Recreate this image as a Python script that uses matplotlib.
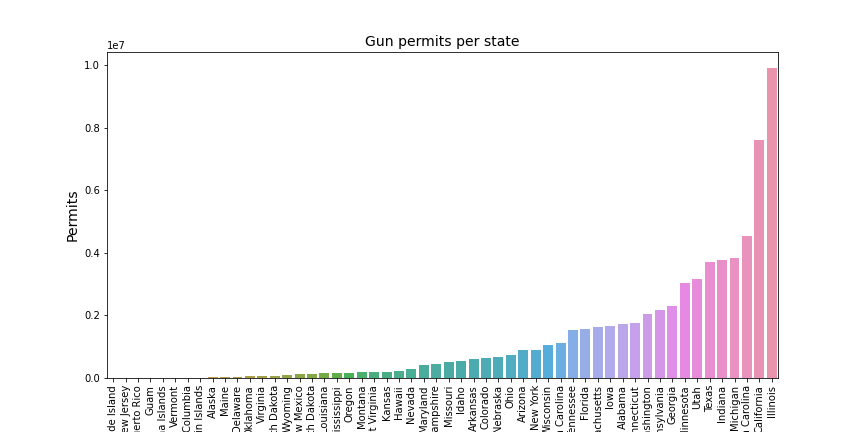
import matplotlib
matplotlib.use("Agg")
import matplotlib.pyplot as plt
import seaborn as sns

states = ["Rhode Island", "New Jersey", "Puerto Rico", "Guam", "Mariana Islands", "Vermont",
          "District of Columbia", "Virgin Islands", "Alaska", "Maine", "Delaware", "Oklahoma",
          "Virginia", "South Dakota", "Wyoming", "New Mexico", "North Dakota", "Louisiana",
          "Mississippi", "Oregon", "Montana", "West Virginia", "Kansas", "Hawaii", "Nevada",
          "Maryland", "New Hampshire", "Missouri", "Idaho", "Arkansas", "Colorado", "Nebraska",
          "Ohio", "Arizona", "New York", "Wisconsin", "South Carolina", "Tennessee", "Florida",
          "Massachusetts", "Iowa", "Alabama", "Connecticut", "Washington", "Pennsylvania",
          "Georgia", "Minnesota", "Utah", "Texas", "Indiana", "Michigan", "North Carolina",
          "California", "Illinois"]

permits_millions = [0, 0, 0, 0, 0, 0, 0, 0, 0.032, 0.032, 0.032, 0.064,
                    0.064, 0.064, 0.096, 0.128, 0.128, 0.16,
                    0.16, 0.16, 0.19, 0.19, 0.19, 0.22, 0.29,
                    0.415, 0.45, 0.51, 0.54, 0.61, 0.64, 0.67,
                    0.73, 0.895, 0.895, 1.055, 1.12, 1.53, 1.565,
                    1.63, 1.66, 1.725, 1.757, 2.045, 2.17,
                    2.3, 3.035, 3.16, 3.705, 3.77, 3.83, 4.535,
                    7.62, 9.93]
permits = [v * 1e6 for v in permits_millions]

colors = [sns.desaturate(c, 0.75) for c in sns.husl_palette(len(states), l=.7)]

fig = plt.figure(figsize=(12, 6), dpi=72)
ax = fig.add_axes([107 / 864, 54 / 432, 671 / 864, 326 / 432])
ax.bar(range(len(states)), permits, width=0.8, color=colors)
ax.set_xticks(range(len(states)))
ax.set_xticklabels(states, rotation=90, fontsize=10)
ax.set_xlim(-0.5, len(states) - 0.5)
ax.tick_params(axis='y', labelsize=10)
ax.set_ylabel("Permits", fontsize=14)
ax.set_title("Gun permits per state", fontsize=14)
fig.savefig("out.png", dpi=72)
